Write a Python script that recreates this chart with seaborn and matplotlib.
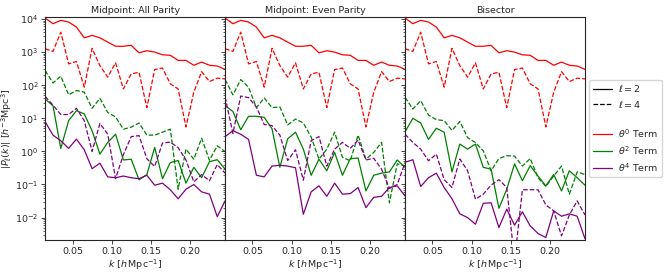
import numpy as np
import pandas as pd
import matplotlib
matplotlib.use("Agg")
import matplotlib.pyplot as plt
from matplotlib.lines import Line2D
import seaborn as sns

# ---------------- data ----------------
k = [0.015, 0.025, 0.035, 0.045, 0.055, 0.065, 0.075, 0.085, 0.095, 0.105, 0.115, 0.125,
     0.135, 0.145, 0.155, 0.165, 0.175, 0.185, 0.195, 0.205, 0.215, 0.225, 0.235, 0.245]

titles = ["Midpoint: All Parity", "Midpoint: Even Parity", "Bisector"]

# theta^0 term (identical in all panels)
t0_l2 = [1.07e4, 7.2e3, 9.1e3, 8.1e3, 5.7e3, 2.7e3, 3.2e3, 2.7e3, 2.0e3, 1.5e3, 1.5e3, 1.6e3,
         950, 1.1e3, 1.0e3, 830, 800, 560, 560, 400, 500, 400, 380, 300]
t0_l4 = [1.26e3, 1.05e3, 4.0e3, 440, 520, 87, 1.3e3, 390, 175, 475, 77, 220,
         245, 21, 297, 330, 110, 77, 5.5, 61, 257, 129, 163, 155]

# Midpoint: All Parity
p1_t2_l2 = [38, 24, 1.23, 8.5, 17, 13.5, 4.2, 0.83, 1.87, 3.3, 0.55, 0.58,
            0.138, 0.2, 1.32, 0.15, 0.46, 0.53, 0.11, 0.33, 0.16, 0.49, 0.56, 0.29]
p1_t2_l4 = [277, 117, 187, 51, 69, 62, 20, 40, 15, 11, 4.7, 5.4,
            7.2, 3.1, 3.1, 3.8, 4.7, 0.072, 1.17, 0.58, 2.5, 0.54, 1.48, 0.98]
p1_t4_l2 = [7.9, 3.1, 2.1, 1.23, 2.35, 1.12, 0.30, 0.44, 0.17, 0.16, 0.18, 0.16,
            0.15, 0.19, 0.095, 0.11, 0.069, 0.037, 0.072, 0.10, 0.06, 0.051, 0.0107, 0.032]
p1_t4_l4 = [46, 25, 13, 13, 20, 8.5, 1.0, 7, 3.3, 0.15, 0.8, 2.8,
            3.0, 0.6, 0.35, 1.8, 1.9, 1.3, 0.55, 0.12, 0.2, 0.13, 0.4, 0.22]

# Midpoint: Even Parity
p2_t2_l2 = [24, 16, 4.5, 11.5, 11.5, 10.7, 4.8, 0.33, 2.4, 3.8, 1.17, 0.19,
            0.58, 0.26, 0.93, 0.19, 0.60, 0.63, 0.064, 0.19, 0.22, 0.24, 0.55, 0.33]
p2_t2_l4 = [148, 51, 148, 87, 21, 41, 21, 22, 6.3, 9.5, 7.2, 2.7,
            0.58, 1.17, 3.8, 0.66, 0.52, 3.1, 0.58, 0.93, 1.87, 0.028, 0.42, 0.37]
p2_t4_l2 = [2.8, 4.2, 3.3, 2.3, 0.19, 0.17, 0.36, 0.38, 0.36, 0.32, 0.0126, 0.06,
            0.091, 0.044, 0.11, 0.051, 0.053, 0.081, 0.02, 0.041, 0.044, 0.081, 0.091, 0.045]
p2_t4_l4 = [44, 3.5, 47, 42, 22, 6.5, 6, 3.1, 0.53, 1.12, 0.135, 2.1,
            2.8, 0.36, 1.17, 1.87, 1.23, 2.2, 0.55, 0.62, 0.29, 0.076, 0.10, 0.46]

# Bisector
p3_t2_l2 = [3.9, 10, 7.2, 2.3, 5, 3.8, 0.24, 1.66, 1.17, 1.66, 0.33, 0.29,
            0.019, 0.072, 0.42, 0.13, 0.37, 0.18, 0.091, 0.2, 0.064, 0.26, 0.16, 0.095]
p3_t2_l4 = [43, 19, 34, 12.5, 9.1, 8.5, 4.3, 8, 2.6, 1.85, 1.04, 0.26,
            0.61, 0.74, 0.72, 0.36, 0.61, 0.16, 0.087, 0.18, 0.36, 0.051, 0.24, 0.2]
p3_t4_l2 = [0.47, 0.56, 0.087, 0.16, 0.22, 0.081, 0.037, 0.013, 0.01, 0.0063, 0.027, 0.028,
            0.005, 0.018, 0.0059, 0.015, 0.0056, 0.0033, 0.0025, 0.016, 0.011, 0.013, 0.011, 0.0023]
p3_t4_l4 = [3.3, 1.87, 1.17, 0.52, 0.83, 0.14, 0.081, 0.59, 0.26, 0.036, 0.051, 0.096,
            0.14, 0.081, 0.0005, 0.069, 0.07, 0.069, 0.024, 0.016, 0.0028, 0.012, 0.032, 0.012]

panels = [
    (t0_l2, t0_l4, p1_t2_l2, p1_t2_l4, p1_t4_l2, p1_t4_l4),
    (t0_l2, t0_l4, p2_t2_l2, p2_t2_l4, p2_t4_l2, p2_t4_l4),
    (t0_l2, t0_l4, p3_t2_l2, p3_t2_l4, p3_t4_l2, p3_t4_l4),
]
term_colors = ["red", "green", "purple"]
term_labels = [r"$\theta^0$ Term", r"$\theta^2$ Term", r"$\theta^4$ Term"]

# ---------------- plot ----------------
FS = 6.8
sns.set_style("ticks")
plt.rcParams["font.family"] = ["DejaVu Sans"]
plt.rcParams["font.size"] = FS
plt.rcParams["mathtext.fontset"] = "dejavusans"

fig, axes = plt.subplots(1, 3, figsize=(6.64, 2.74), dpi=100, sharey=True)
fig.subplots_adjust(left=0.068, right=0.881, top=0.938, bottom=0.124, wspace=0)

for ax, title, series in zip(axes, titles, panels):
    for i, col in enumerate(term_colors):
        l2 = series[2 * i]
        l4 = series[2 * i + 1]
        df = pd.DataFrame({"k": k, "l2": l2, "l4": l4})
        sns.lineplot(data=df, x="k", y="l2", ax=ax, color=col, lw=0.9,
                     linestyle="-", legend=False)
        sns.lineplot(data=df, x="k", y="l4", ax=ax, color=col, lw=0.9,
                     linestyle="--", legend=False)
    ax.set_yscale("log")
    ax.set_xlim(0.015, 0.245)
    ax.set_ylim(2.1e-3, 1.15e4)
    ax.set_xticks([0.05, 0.10, 0.15, 0.20])
    ax.set_xticklabels(["0.05", "0.10", "0.15", "0.20"])
    ax.set_title(title, fontsize=FS, pad=3)
    ax.set_xlabel(r"$k$ [$h\,\mathrm{Mpc}^{-1}$]", fontsize=FS, labelpad=1)
    ax.set_ylabel("")
    ax.tick_params(labelsize=FS, length=3, width=0.6, pad=2)
    ax.tick_params(which="minor", length=1.5, width=0.5)
    for sp in ax.spines.values():
        sp.set_visible(True)
        sp.set_linewidth(0.8)

axes[0].set_ylabel(r"$|P_\ell(k)|$ [$h^{-3}\mathrm{Mpc}^3$]", fontsize=FS, labelpad=1)

handles = [
    Line2D([], [], color="black", lw=0.9, linestyle="-", label=r"$\ell=2$"),
    Line2D([], [], color="black", lw=0.9, linestyle="--", label=r"$\ell=4$"),
    Line2D([], [], color="none", label=" "),
]
for col, lab in zip(term_colors, term_labels):
    handles.append(Line2D([], [], color=col, lw=0.9, label=lab))
axes[2].legend(handles=handles, loc="center left", bbox_to_anchor=(1.025, 0.5),
               fontsize=FS, frameon=True, handlelength=2.0, borderaxespad=0,
               labelspacing=0.45, borderpad=0.4, handletextpad=0.6)

fig.savefig("out.png", dpi=100)
